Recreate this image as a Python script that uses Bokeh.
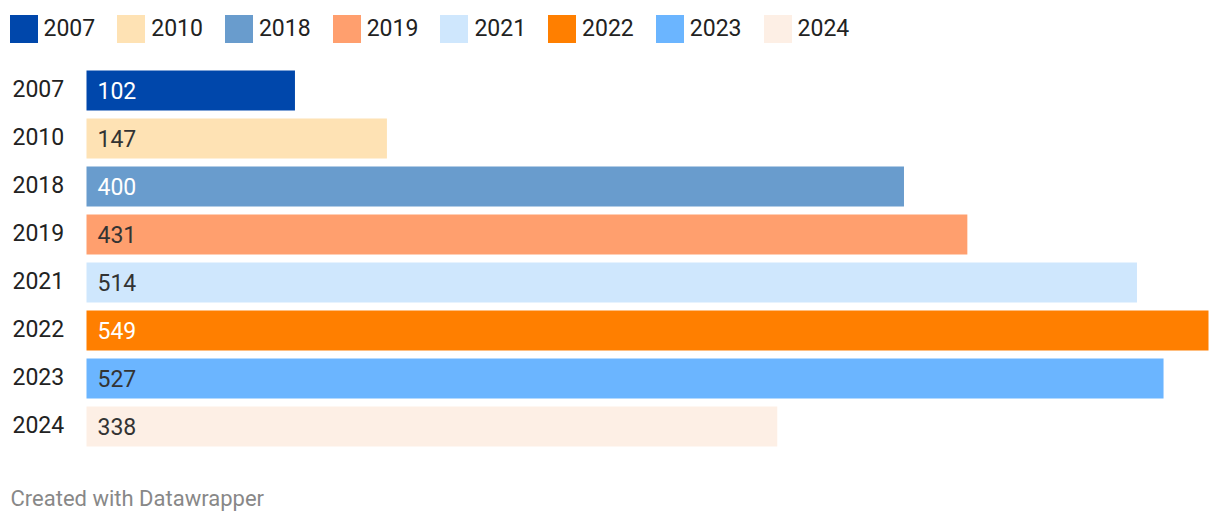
from bokeh.plotting import figure
from bokeh.models import ColumnDataSource, FactorRange, Range1d, Legend, LegendItem, Label
from bokeh.core.properties import value
from bokeh.embed import file_html
from bokeh.resources import INLINE

years = ["2007", "2010", "2018", "2019", "2021", "2022", "2023", "2024"]
counts = [102, 147, 400, 431, 514, 549, 527, 338]
colors = ["#0047ab", "#fee2b4", "#699ccd", "#ff9f6e", "#cfe7fd", "#ff7f00", "#6bb5ff", "#fdefe5"]
value_colors = ["#ffffff", "#333333", "#ffffff", "#333333", "#333333", "#ffffff", "#333333", "#333333"]

FONT = "Roboto"
W, H = 1216, 516
BAR_X0, BAR_X1 = 86, 1208          # pixel extent of axis 0 .. max
ROW = 48                           # pixels per category row
xmax = max(counts)
ppu = (BAR_X1 - BAR_X0) / xmax
pad_rows = (H - ROW * len(years)) / 2 / ROW

src = ColumnDataSource(dict(y=years, v=counts, c=colors, tc=value_colors,
                            lab=[str(v) for v in counts], zero=[0] * len(years)))

p = figure(width=W, height=H, output_backend="svg", toolbar_location=None,
           y_range=FactorRange(factors=years[::-1], range_padding=pad_rows,
                               range_padding_units="absolute"),
           x_range=Range1d(-BAR_X0 / ppu, xmax + (W - BAR_X1) / ppu),
           min_border_left=0, min_border_right=0, min_border_top=0, min_border_bottom=0)
p.axis.visible = False
p.grid.visible = False
p.outline_line_color = None
p.background_fill_color = "white"

bars = p.hbar(y="y", right="v", left=0, height=40 / ROW, fill_color="c", line_color=None, source=src)

p.text(x="zero", y="y", text="lab", source=src, x_offset=11, text_align="left",
       text_baseline="middle", text_color="tc", text_font=value(FONT), text_font_size="23px")
p.text(x="zero", y="y", text="y", source=src, x_offset=-74, y_offset=-2, text_align="left",
       text_baseline="middle", text_color="#222222", text_font=value(FONT), text_font_size="23px")

items = [LegendItem(label=y, renderers=[bars], index=i) for i, y in enumerate(years)]
legend = Legend(items=items, orientation="horizontal", location=(5.5, H - 45.5),
                glyph_width=35, glyph_height=35, label_standoff=3, spacing=18,
                padding=0, margin=0, border_line_alpha=0, background_fill_alpha=0,
                label_text_font=FONT, label_text_font_size="23px", label_text_color="#222222",
                label_text_baseline="middle")
p.add_layout(legend, "center")

footer = Label(x=10, y=H - 498, x_units="screen", y_units="screen", text="Created with Datawrapper",
               text_font=FONT, text_font_size="22px", text_color="#888888", text_baseline="middle")
p.add_layout(footer)

open("out.html", "w").write(file_html(p, INLINE))
